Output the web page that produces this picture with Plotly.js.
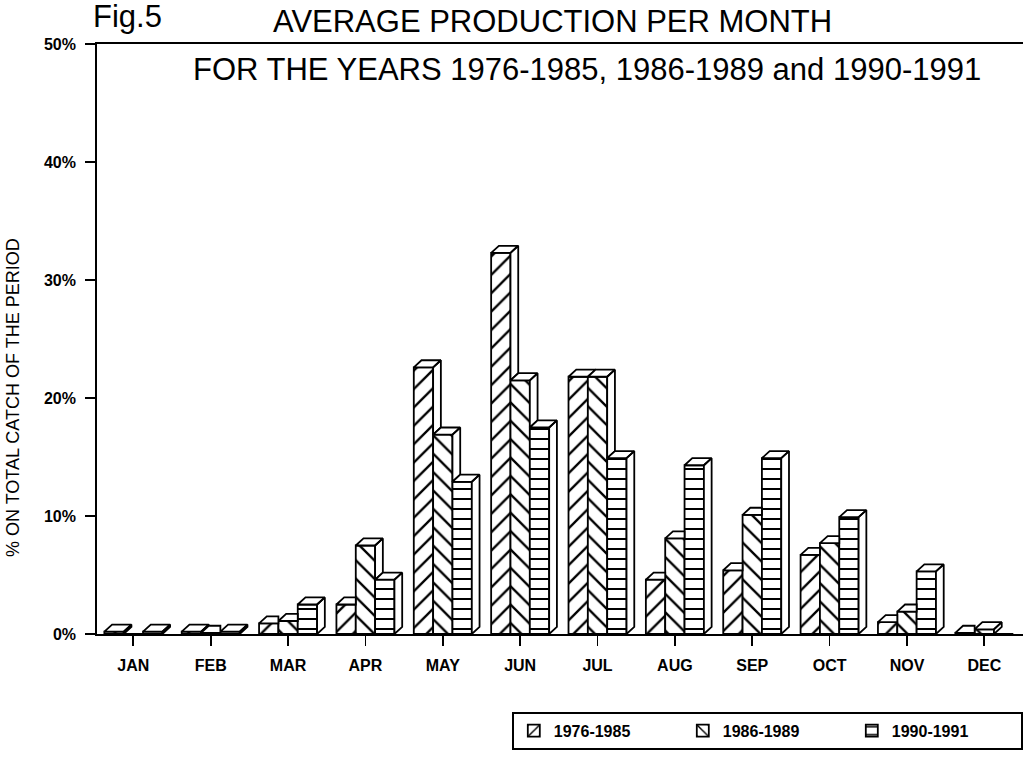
<!DOCTYPE html>
<html>
<head>
<meta charset="utf-8">
<script src="https://cdn.plot.ly/plotly-3.0.1.min.js"></script>
<style>html,body{margin:0;padding:0;background:#fff;}#chart{width:1023px;height:760px;}</style>
</head>
<body>
<div id="chart"></div>
<script>
// ---- data ----
const months = ['JAN','FEB','MAR','APR','MAY','JUN','JUL','AUG','SEP','OCT','NOV','DEC'];
const p1976_1985 = [0.2, 0.2, 0.9, 2.5, 22.6, 32.3, 21.8, 4.6, 5.4, 6.7, 1.0, 0.1];
const p1986_1989 = [0.0, 0.1, 1.1, 7.5, 16.9, 21.5, 21.8, 8.1, 10.1, 7.7, 1.9, 0.4];
const p1990_1991 = [0.2, 0.2, 2.5, 4.6, 12.9, 17.5, 14.9, 14.3, 14.9, 9.9, 5.3, 0.0];
const seriesNames = ['1976-1985','1986-1989','1990-1991'];
const yTickVals = [0,10,20,30,40,50];
const yTickText = ['0%','10%','20%','30%','40%','50%'];

// ---- styling / geometry (not data) ----
const series = [p1976_1985, p1986_1989, p1990_1991];
const patterns = [
  {shape:'/', size:13, solidity:0.18},
  {shape:'\\', size:13, solidity:0.18},
  {shape:'-', size:10, solidity:0.2}
];
const W = 0.25;            // bar width (category units)
const offs = [-0.375, -0.125, 0.125];
const DX = 0.1, DY = 0.6;  // 3-D depth offset
const xIdx = months.map((m,i)=>i);

const traces = [];
series.forEach((vals,k)=>{
  traces.push({
    type:'bar', name: seriesNames[k], x: xIdx, y: vals,
    width: W, offset: offs[k],
    marker:{color:'#fff', line:{color:'#000', width:1.8},
      pattern:{shape:patterns[k].shape, size:patterns[k].size, solidity:patterns[k].solidity,
               fgcolor:'#000', bgcolor:'#fff', fillmode:'replace'}},
    hoverinfo:'skip'
  });
});

// 3-D faces (top + side), derived from the data values
series.forEach((vals,k)=>{
  const next = series[k+1];
  const fx = [], fy = [];
  vals.forEach((v,i)=>{
    if (!(v > 0)) return;
    const a = i + offs[k], r = a + W;
    const vn = next ? next[i] : 0;
    let top;
    if (next && vn > v) top = [[a,v],[r,v],[r,v+DY],[a+DX,v+DY],[a,v]];
    else top = [[a,v],[r,v],[r+DX,v+DY],[a+DX,v+DY],[a,v]];
    top.forEach(p=>{fx.push(p[0]); fy.push(p[1]);});
    fx.push(null); fy.push(null);
    const b = next ? Math.max(vn,0) : 0;
    if (b < v) {
      const side = [[r,b],[r+DX,b+DY],[r+DX,v+DY],[r,v],[r,b]];
      side.forEach(p=>{fx.push(p[0]); fy.push(p[1]);});
      fx.push(null); fy.push(null);
    }
  });
  traces.push({
    type:'scatter', mode:'lines', x: fx, y: fy, fill:'toself', fillcolor:'#fff',
    line:{color:'#000', width:1.8}, showlegend:false, hoverinfo:'skip', connectgaps:false
  });
});

const F = 'Liberation Sans, Arial, sans-serif';
const L = 97, T = 44, PW = 1023 - L, PH = 590;
const px = x => (x - L)/PW;
const py = y => (T + PH - y)/PH;

const layout = {
  width:1023, height:760,
  margin:{l:L, r:0, t:T, b:760-T-PH, pad:0},
  paper_bgcolor:'#fff', plot_bgcolor:'#fff',
  barmode:'overlay',
  showlegend:true,
  font:{family:F, color:'#000'},
  xaxis:{range:[-0.47,11.5], tickmode:'array', tickvals:xIdx, ticktext:months,
    showgrid:false, zeroline:false, showline:true, linecolor:'#000', linewidth:1.8, mirror:true,
    ticks:'outside', ticklen:10, tickwidth:1.8, tickcolor:'#000', ticklabelstandoff:6,
    tickfont:{family:F, size:16, weight:'bold', color:'#000'}, fixedrange:true},
  yaxis:{range:[0,50], tickmode:'array', tickvals:yTickVals, ticktext:yTickText,
    showgrid:false, zeroline:false, showline:true, linecolor:'#000', linewidth:1.8,
    ticks:'outside', ticklen:10, tickwidth:1.8, tickcolor:'#000', ticklabelstandoff:6,
    tickfont:{family:F, size:16, weight:'bold', color:'#000'}, fixedrange:true},
  legend:{orientation:'h', x:px(512), xanchor:'left', y:py(712), yanchor:'top',
    bordercolor:'#000', borderwidth:1.8, bgcolor:'#fff',
    font:{family:F, size:16, weight:'bold', color:'#000'}, entrywidth:124, itemwidth:30},
  annotations:[
    {text:'Fig.5', xref:'paper', yref:'paper', x:px(127), y:py(17), xanchor:'center', yanchor:'middle', showarrow:false,
     font:{family:F, size:31, color:'#000'}},
    {text:'AVERAGE PRODUCTION PER MONTH', xref:'paper', yref:'paper', x:px(552), y:py(22), xanchor:'center', yanchor:'middle', showarrow:false,
     font:{family:F, size:31, color:'#000'}},
    {text:'FOR THE YEARS 1976-1985, 1986-1989 and 1990-1991', xref:'paper', yref:'paper', x:px(587), y:py(70), xanchor:'center', yanchor:'middle', showarrow:false,
     font:{family:F, size:31, color:'#000'}},
    {text:'% ON TOTAL CATCH OF THE PERIOD', xref:'paper', yref:'paper', x:px(13), y:py(398), xanchor:'center', yanchor:'middle', showarrow:false,
     textangle:-90, font:{family:F, size:18, color:'#000'}}
  ]
};

Plotly.newPlot('chart', traces, layout, {displayModeBar:false, staticPlot:true});
</script>
</body>
</html>
